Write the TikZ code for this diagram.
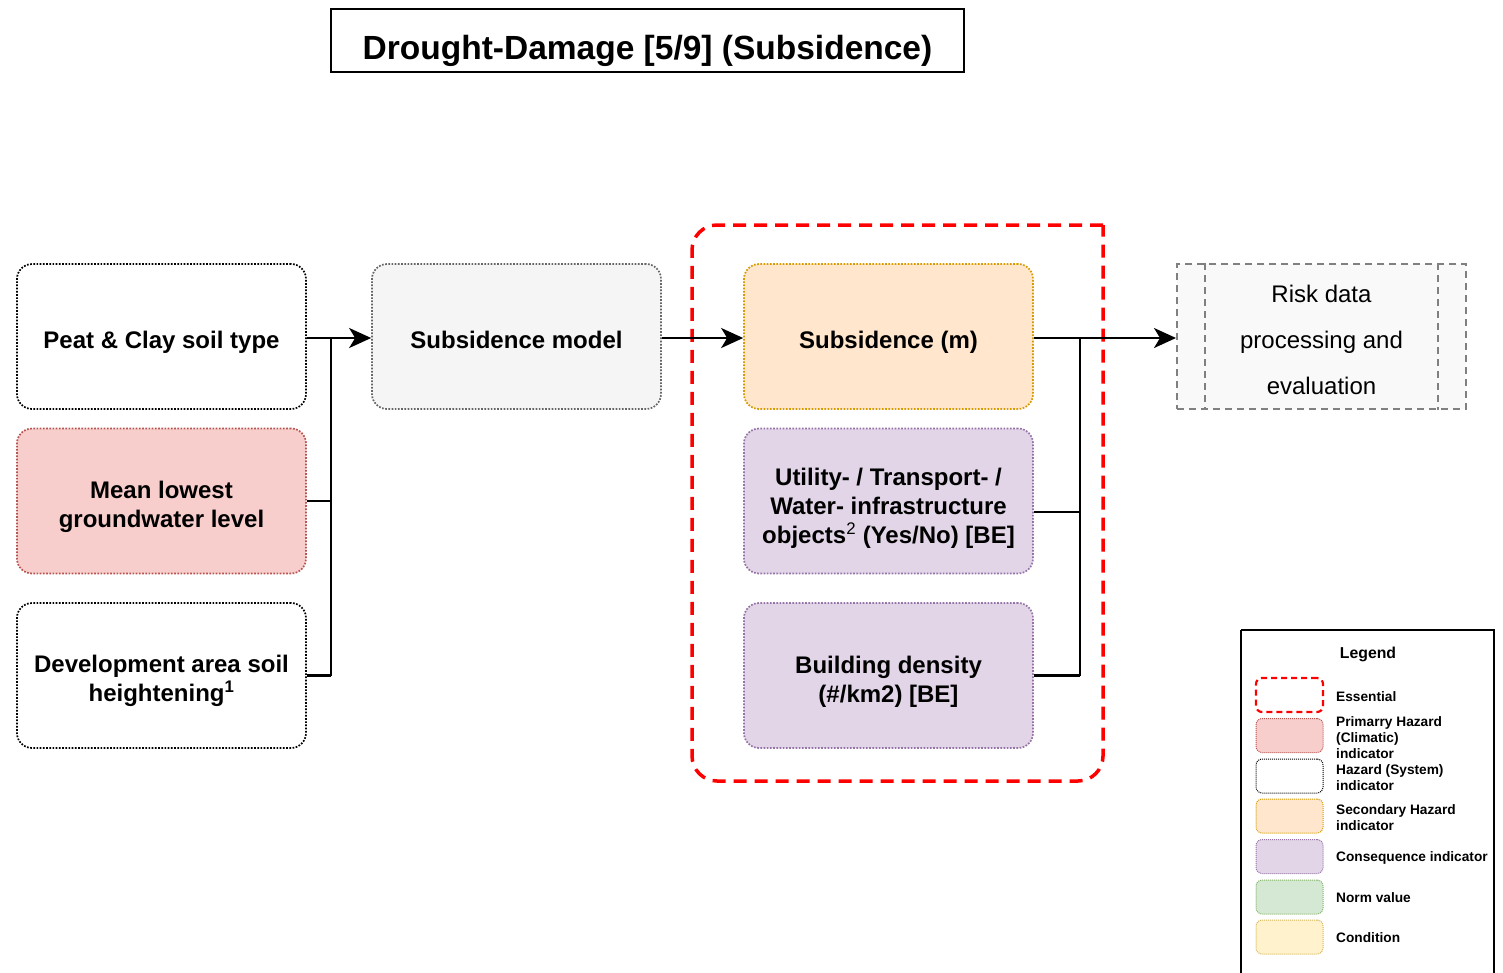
\documentclass[tikz,border=0pt]{standalone}
\usepackage{fontspec}
\setmainfont{Liberation Sans}
\usetikzlibrary{arrows.meta}
\definecolor{primfill}{HTML}{F8CECC}
\definecolor{primdraw}{HTML}{B85450}
\definecolor{secfill}{HTML}{FFE6CC}
\definecolor{secdraw}{HTML}{D79B00}
\definecolor{confill}{HTML}{E1D5E7}
\definecolor{condraw}{HTML}{9673A6}
\definecolor{normfill}{HTML}{D5E8D4}
\definecolor{normdraw}{HTML}{82B366}
\definecolor{cndfill}{HTML}{FFF2CC}
\definecolor{cnddraw}{HTML}{D6B656}
\definecolor{modfill}{HTML}{F5F5F5}
\definecolor{moddraw}{HTML}{666666}
\definecolor{riskfill}{HTML}{F9F9F9}
\definecolor{riskdraw}{HTML}{808080}
\definecolor{essred}{HTML}{FF0000}
\begin{document}
\begin{tikzpicture}[x=1pt,y=-1pt,
  indicator/.style={rounded corners=15pt, minimum width=289pt, minimum height=145pt,
    line width=1.7pt, dash pattern=on 1.7pt off 1.5pt, inner sep=0pt},
  lbl/.style={yshift=-6pt, align=center, inner sep=0pt,
    font=\fontsize{24}{29}\selectfont\bfseries},
  hazsys/.style={indicator, draw=black, fill=white},
  primary/.style={indicator, draw=primdraw, fill=primfill},
  secondary/.style={indicator, draw=secdraw, fill=secfill},
  consequence/.style={indicator, draw=condraw, fill=confill},
  model/.style={indicator, draw=moddraw, fill=modfill},
  link/.style={line width=2.2pt, draw=black},
  flow/.style={link, -{Stealth[length=22pt,width=20pt,inset=6pt]}},
  swatch/.style={rounded corners=6pt, minimum width=67pt, minimum height=34pt,
    line width=1pt, dash pattern=on 1pt off 1pt, inner sep=0pt},
  legtext/.style={anchor=west, align=left, inner sep=0pt,
    font=\fontsize{13.7}{16}\selectfont\bfseries}
]
\useasboundingbox (0,0) rectangle (1503,972);

% title
\node[draw=black, line width=2pt, minimum width=633pt, minimum height=63pt,
  label={[yshift=-10pt, inner sep=0pt, font=\fontsize{33.5}{40}\selectfont\bfseries]center:Drought-Damage [5/9] (Subsidence)}]
  (title) at (647.5,40.5) {};

% essential frame (top-right corner square)
\draw[essred, line width=3.5pt, dash pattern=on 13pt off 8pt]
  (1103,225) -- (717,225) arc[start angle=270,end angle=180,radius=25]
  -- (692,756) arc[start angle=180,end angle=90,radius=25]
  -- (1078,781) arc[start angle=90,end angle=0,radius=25] -- cycle;

% left column
\node[hazsys, label={[lbl]center:Peat \& Clay soil type}] (peat) at (161.5,336.5) {};
\node[primary, label={[lbl]center:Mean lowest\\groundwater level}] (gwl) at (161.5,501) {};
\node[hazsys, label={[lbl, yshift=1pt]center:Development area soil\\heightening\textsuperscript{1}}]
  (dev) at (161.5,675.5) {};

% model
\node[model, label={[lbl, yshift=3pt]center:Subsidence model}] (model) at (516.5,336.5) {};

% essential indicators
\node[secondary, label={[lbl]center:Subsidence (m)}] (subs) at (888.5,336.5) {};
\node[consequence, label={[lbl, yshift=-1pt]center:Utility- / Transport- /\\Water- infrastructure\\objects\textsuperscript{\mdseries 2} (Yes/No) [BE]}]
  (util) at (888.5,501) {};
\node[consequence, label={[lbl]center:Building density\\(\#/km2) [BE]}] (bld) at (888.5,675.5) {};

% risk processing
\node[draw=riskdraw, fill=riskfill, line width=2pt, dash pattern=on 7pt off 5pt,
  minimum width=289pt, minimum height=145pt, inner sep=0pt,
  label={[yshift=-3pt, align=center, inner sep=0pt, font=\fontsize{24}{46}\selectfont]center:Risk data\\processing and\\evaluation}]
  (risk) at (1321.5,336.5) {};
\draw[riskdraw, line width=2pt, dash pattern=on 7pt off 5pt]
  ([xshift=29pt]risk.north west) -- ([xshift=29pt]risk.south west);
\draw[riskdraw, line width=2pt, dash pattern=on 7pt off 5pt]
  ([xshift=-29pt]risk.north east) -- ([xshift=-29pt]risk.south east);

% connectors: inputs to the model
\coordinate (jin) at (331,338);
\draw[flow] (peat.east |- jin) -- (model.west |- jin);
\draw[link] (jin) -- (jin |- dev.east);
\draw[link] (gwl.east) -- (gwl.east -| jin);
\draw[link] (dev.east) -- (dev.east -| jin);

% model to subsidence
\draw[flow] (model.east |- jin) -- (subs.west |- jin);

% essential indicators to risk processing
\coordinate (jout) at (1080,338);
\draw[flow] (subs.east |- jout) -- (risk.west |- jout);
\draw[link] (jout) -- (jout |- bld.east);
\draw[link] ([yshift=-11pt]util.east) -- ([yshift=-11pt]util.east -| jout);
\draw[link] (bld.east) -- (bld.east -| jout);

% legend
\draw[black, line width=2pt] (1241,630) -- (1494,630) -- (1494,985)
  (1241,630) -- (1241,985);
\node[font=\fontsize{15.8}{18}\selectfont\bfseries] (legtitle) at (1368,654) {Legend};
\node[swatch, draw=essred, line width=2.2pt, dash pattern=on 6pt off 4pt]
  (sw1) at (1289.5,695) {};
\node[swatch, draw=primdraw, fill=primfill] (sw2) at (1289.5,735.5) {};
\node[swatch, draw=black, fill=white] (sw3) at (1289.5,776) {};
\node[swatch, draw=secdraw, fill=secfill] (sw4) at (1289.5,816) {};
\node[swatch, draw=condraw, fill=confill] (sw5) at (1289.5,856.5) {};
\node[swatch, draw=normdraw, fill=normfill] (sw6) at (1289.5,897) {};
\node[swatch, draw=cnddraw, fill=cndfill] (sw7) at (1289.5,937) {};
\node[legtext] (lt1) at (1336,697) {Essential};
\node[legtext] (lt2) at (1336,738) {Primarry Hazard\\(Climatic)\\indicator};
\node[legtext] (lt3) at (1336,778) {Hazard (System)\\indicator};
\node[legtext] (lt4) at (1336,818) {Secondary Hazard\\indicator};
\node[legtext] (lt5) at (1336,858) {Consequence indicator};
\node[legtext] (lt6) at (1336,898) {Norm value};
\node[legtext] (lt7) at (1336,938) {Condition};
\end{tikzpicture}
\end{document}
